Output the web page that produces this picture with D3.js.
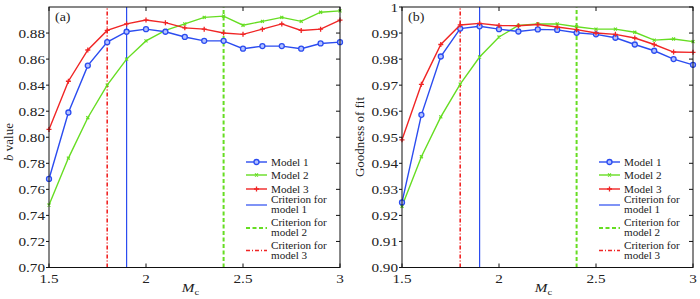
<!DOCTYPE html>
<html>
<head>
<meta charset="utf-8">
<script src="https://cdn.jsdelivr.net/npm/d3@7"></script>
<style>
  body { margin:0; background:#fff; }
  svg, svg text { font-family:"Liberation Serif","DejaVu Serif","Times New Roman",serif; }
  svg { display:block; }
</style>
</head>
<body>
<svg id="chart" width="700" height="299"></svg>
<script>
// data
const mc = [1.5,1.6,1.7,1.8,1.9,2.0,2.1,2.2,2.3,2.4,2.5,2.6,2.7,2.8,2.9,3.0];
const bModel1 = [0.768,0.819,0.855,0.873,0.881,0.883,0.881,0.877,0.874,0.874,0.868,0.870,0.870,0.868,0.872,0.873];
const bModel2 = [0.748,0.784,0.815,0.840,0.860,0.874,0.882,0.887,0.892,0.893,0.886,0.889,0.892,0.889,0.896,0.897];
const bModel3 = [0.806,0.843,0.867,0.882,0.887,0.890,0.888,0.884,0.883,0.880,0.879,0.883,0.887,0.882,0.883,0.890];
const gofModel1 = [0.925,0.9586,0.981,0.9917,0.9926,0.9915,0.9906,0.9914,0.9912,0.9901,0.9895,0.9882,0.9856,0.9832,0.980,0.9778];
const gofModel2 = [0.9235,0.9425,0.9578,0.9704,0.9808,0.9885,0.9929,0.9935,0.9935,0.9924,0.9915,0.9915,0.9903,0.9873,0.9877,0.9867];
const gofModel3 = [0.949,0.9703,0.9856,0.9931,0.9937,0.9929,0.9928,0.9933,0.9923,0.9913,0.990,0.9895,0.9881,0.9856,0.9827,0.9826];
const criteria = [1.9, 2.4, 1.8];   // model 1, 2, 3
const xTicks = [1.5, 2, 2.5, 3];
const bTicks = [0.70,0.72,0.74,0.76,0.78,0.80,0.82,0.84,0.86,0.88];
const gofTicks = [0.90,0.91,0.92,0.93,0.94,0.95,0.96,0.97,0.98,0.99,1.0];

const BLUE="#2b4cf0", GREEN="#66dd22", RED="#f02525";
const modelColors=[BLUE,GREEN,RED];
const critDash=[null,"4,2.5","4,2,1,2"];
const critWidth=[1.2,2,1.6];
const FONT="Liberation Serif, DejaVu Serif, serif";

const svg = d3.select("#chart").attr("font-family",FONT);

// text helper: the figure's lettering is slightly stretched horizontally
function txt(g,x,y,s,size,anchor,sx){
  return g.append("text").attr("transform",`translate(${x},${y}) scale(${sx||1.17},1)`)
    .attr("font-family",FONT).attr("font-size",size).attr("text-anchor",anchor||"start").attr("fill","#222").text(s);
}

function marker(g,i,x,y){
  const c=modelColors[i];
  if(i===0) g.append("circle").attr("cx",x).attr("cy",y).attr("r",2.5).attr("fill","#b4c2ff").attr("stroke",c).attr("stroke-width",1.3);
  else if(i===1) g.append("path").attr("d",`M${x-1.5},${y-1.5}L${x+1.5},${y+1.5}M${x-1.5},${y+1.5}L${x+1.5},${y-1.5}`).attr("stroke",c).attr("stroke-width",1.2);
  else g.append("path").attr("d",`M${x-2.5},${y}H${x+2.5}M${x},${y-2.5}V${y+2.5}`).attr("stroke",c).attr("stroke-width",1.3);
}

function panel(o){
  const g=svg.append("g");
  const x=d3.scaleLinear().domain([1.5,3]).range([o.left,o.right]);
  const y=d3.scaleLinear().domain(o.yDomain).range([o.bottom,o.top]);

  // criterion lines
  criteria.forEach((c,i)=>{
    g.append("line").attr("x1",x(c)).attr("x2",x(c)).attr("y1",y(o.yDomain[0])).attr("y2",y(o.yDomain[1]))
      .attr("stroke",modelColors[i]).attr("stroke-width",critWidth[i]).attr("stroke-dasharray",critDash[i]);
  });

  // series, drawn model 2, 1, 3
  const line=d3.line().x((d,j)=>x(mc[j])).y(d=>y(d));
  [1,0,2].forEach(i=>{
    const vals=o.series[i];
    g.append("path").attr("d",line(vals)).attr("fill","none").attr("stroke",modelColors[i]).attr("stroke-width",1.4);
    vals.forEach((v,j)=>marker(g,i,x(mc[j]),y(v)));
  });

  // frame
  g.append("rect").attr("x",o.left).attr("y",o.top).attr("width",o.right-o.left).attr("height",o.bottom-o.top)
    .attr("fill","none").attr("stroke","#111").attr("stroke-width",1);

  // ticks
  const ax=g.append("g").attr("stroke","#111").attr("stroke-width",1);
  o.yTicks.forEach(t=>{
    ax.append("line").attr("x1",o.left-3).attr("x2",o.left).attr("y1",y(t)).attr("y2",y(t));
    ax.append("line").attr("x1",o.right-4).attr("x2",o.right).attr("y1",y(t)).attr("y2",y(t));
    txt(g,o.left-4,y(t)+4.5,o.yFormat(t),13,"end");
  });
  xTicks.forEach(t=>{
    ax.append("line").attr("x1",x(t)).attr("x2",x(t)).attr("y1",o.bottom).attr("y2",o.bottom-4);
    ax.append("line").attr("x1",x(t)).attr("x2",x(t)).attr("y1",o.top).attr("y2",o.top+4);
    txt(g,x(t),o.bottom+15.5,d3.format("")(t),13,"middle");
  });

  // axis titles
  const xl=g.append("text").attr("transform",`translate(${(o.left+o.right)/2-4},${o.bottom+24.5}) scale(1.17,1)`)
    .attr("font-family",FONT).attr("font-size",13).attr("text-anchor","middle").attr("fill","#222");
  xl.append("tspan").attr("font-style","italic").text("M");
  xl.append("tspan").attr("font-size",9).attr("dy",2.5).text("c");

  const yl=g.append("text").attr("transform",`translate(${o.yLabelX},${o.yLabelY}) rotate(-90)`)
    .attr("font-family",FONT).attr("font-size",13).attr("text-anchor","middle").attr("fill","#222");
  o.yLabel(yl);

  txt(g,o.left+6,o.top+13.5,o.tag,12.5,"start",1.12);

  // legend
  const lx0=o.left+197, lx1=o.left+218, tx=o.left+222;
  const lg=g.append("g");
  ["Model 1","Model 2","Model 3"].forEach((s,i)=>{
    const ly=[162,175,189][i];
    lg.append("line").attr("x1",lx0).attr("x2",lx1).attr("y1",ly).attr("y2",ly).attr("stroke",modelColors[i]).attr("stroke-width",1.4);
    marker(lg,i,(lx0+lx1)/2,ly);
    txt(lg,tx,ly+3.5,s,10,"start",1.12);
  });
  [[200,210],[223,233],[245.5,255.5]].forEach((r,i)=>{
    const ly=(r[0]+r[1])/2;
    lg.append("line").attr("x1",lx0).attr("x2",lx1).attr("y1",ly).attr("y2",ly)
      .attr("stroke",modelColors[i]).attr("stroke-width",critWidth[i]).attr("stroke-dasharray",critDash[i]);
    txt(lg,tx,r[0]+3.3,"Criterion for",9.5,"start",1.17);
    txt(lg,tx,r[1]+3.3,"model "+(i+1),9.5,"start",1.17);
  });
}

panel({
  left:49, right:340, top:7, bottom:267.5, tag:"(a)",
  yDomain:[0.70,0.90], yTicks:bTicks, yFormat:d3.format(".2f"),
  series:[bModel1,bModel2,bModel3], yLabelX:13, yLabelY:142,
  yLabel:t=>{ t.append("tspan").attr("font-style","italic").text("b"); t.append("tspan").text(" value"); }
});
panel({
  left:402, right:693, top:7, bottom:267.5, tag:"(b)",
  yDomain:[0.90,1.0], yTicks:gofTicks, yFormat:d=>d===1?"1":d3.format(".2f")(d),
  series:[gofModel1,gofModel2,gofModel3], yLabelX:364, yLabelY:137,
  yLabel:t=>t.text("Goodness of fit")
});
</script>
</body>
</html>
